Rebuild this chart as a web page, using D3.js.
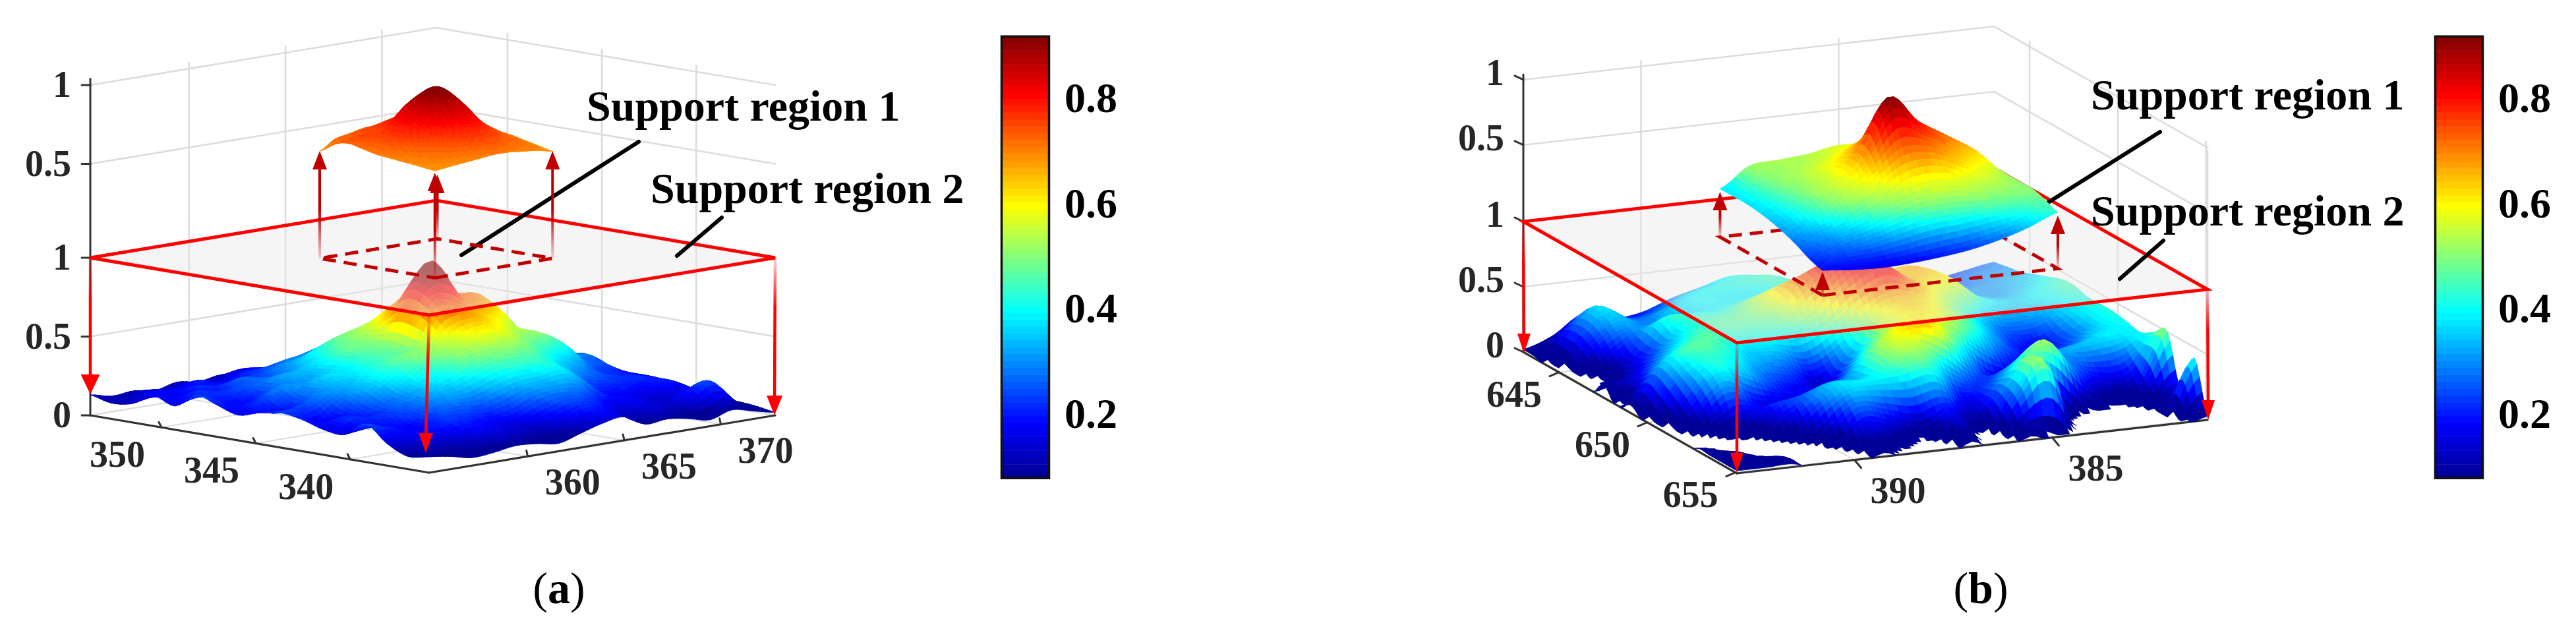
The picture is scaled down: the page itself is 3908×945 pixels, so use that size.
<!DOCTYPE html>
<html><head><meta charset="utf-8">
<script src="https://cdn.jsdelivr.net/npm/d3@7"></script>
<style>html,body{margin:0;background:#fff}svg{display:block}text{font-family:"Liberation Serif","Times New Roman",serif}</style>
</head><body><svg id="c" width="3908" height="945"></svg>
<script>
// ---------- values ----------
const colorbarTicks=[0.2,0.4,0.6,0.8];
const zTicks=[0,0.5,1];
const xTicksA=[360,365,370], yTicksA=[350,345,340];
const xTicksB=[390,385], yTicksB=[645,650,655];
const annotations=["Support region 1","Support region 2"];
// heights: rows = y axis from near corner to far corner, columns = x axis from near corner to far corner
// (values below 0 fall under the axis floor and are clipped away)
const surfaceA=[
[.10,.08,.05,.06,.08,.07,.05,.09,.13,.15,.08,.09,.07,.04,.08,.05,.02],
[.08,.10,.12,.14,.16,.13,.12,.15,.20,.19,.12,.15,.12,.18,.24,.10,.04],
[.14,.16,.18,.22,.20,.18,.20,.26,.28,.26,.19,.18,.14,.13,.17,.11,.05],
[.24,.20,.17,.24,.28,.27,.31,.35,.36,.38,.30,.18,.19,.17,.20,.13,.06],
[.15,.18,.22,.26,.33,.37,.42,.46,.46,.44,.36,.28,.24,.22,.20,.15,.07],
[.16,.22,.20,.28,.36,.44,.50,.54,.54,.52,.44,.38,.30,.22,.20,.16,.08],
[.20,.16,.24,.34,.42,.50,.52,.60,.64,.60,.52,.50,.42,.28,.24,.14,.09],
[.22,.24,.30,.33,.40,.46,.50,.76,.74,.66,.60,.50,.36,.26,.28,.18,.07],
[.20,.18,.26,.36,.38,.46,.52,.82,.98,.76,.70,.62,.44,.30,.24,.12,.06],
[.16,.22,.30,.30,.36,.48,.50,.66,.78,.72,.70,.66,.40,.26,.20,.14,.08],
[.20,.18,.22,.32,.34,.42,.50,.55,.64,.60,.56,.46,.36,.24,.22,.16,.07],
[.24,.20,.24,.27,.28,.36,.44,.48,.50,.52,.44,.38,.30,.26,.18,.12,.06],
[.15,.22,.20,.26,.24,.30,.32,.32,.42,.46,.40,.34,.26,.22,.22,.12,.05],
[.19,.16,.21,.18,.20,.24,.28,.30,.34,.35,.32,.30,.24,.20,.16,.14,.05],
[.12,.18,.16,.20,.16,.20,.20,.22,.26,.28,.24,.22,.20,.14,.12,.10,.04],
[.10,.12,.14,.12,.14,.12,.18,.16,.18,.16,.18,.14,.15,.12,.10,.08,.04],
[.13,.10,.11,.09,.12,.10,.12,.10,.12,.10,.10,.11,.09,.08,.07,.05,.03]];
const surfaceB=[
[.02,.02,.02,-.08,-.10,.03,-.08,-.12,.04,-.10,.03,-.08,-.15,-.15,-.15,-.06,.03],
[.02,.02,.02,-.10,-.06,.12,.06,-.06,.14,-.06,.24,.46,-.05,-.15,-.12,-.02,.42],
[.02,.02,-.08,-.10,.06,.26,.22,.16,.22,.10,.30,.50,.10,-.08,-.08,.02,.12],
[.02,-.03,-.08,.04,.24,.36,.38,.40,.42,.18,.25,.42,.50,.22,.08,.10,.50],
[-.08,-.02,.06,.20,.26,.34,.34,.50,.52,.36,.22,.30,.44,.30,.22,.24,.44],
[-.08,.10,.28,.16,.16,.22,.30,.50,.62,.62,.36,.14,.16,.30,.34,.38,.38],
[-.06,.20,.40,.34,.22,.16,.18,.40,.56,.60,.52,.34,.20,.20,.26,.36,.40],
[-.02,.28,.42,.40,.30,.24,.12,.30,.52,.62,.58,.46,.30,.18,.20,.32,.42],
[.06,.32,.46,.44,.36,.34,.26,.38,.56,.66,.62,.50,.36,.22,.20,.34,.42],
[-.03,.22,.38,.46,.42,.42,.46,.60,.78,.85,.70,.56,.42,.30,.30,.36,.42],
[.10,.14,.30,.42,.46,.48,.56,.76,.86,.76,.68,.62,.56,.40,.36,.40,.45],
[-.05,.08,.22,.38,.44,.46,.58,.68,.70,.64,.62,.66,.58,.40,.34,.38,.44],
[-.10,.04,.22,.42,.42,.42,.50,.56,.58,.56,.54,.60,.50,.36,.30,.34,.40],
[-.10,.16,.30,.30,.36,.38,.40,.44,.46,.44,.46,.46,.40,.30,.30,.32,.36],
[-.06,.22,.36,.28,.34,.40,.38,.38,.42,.40,.40,.36,.30,.24,.26,.30,.32],
[.01,.20,.36,.24,.26,.36,.40,.42,.44,.36,.32,.28,.24,.22,.24,.28,.30],
[.02,.10,.24,.18,.20,.28,.34,.40,.38,.30,.26,.24,.20,.18,.20,.24,.28]];
const patchA=[
[.68,.69,.70,.71,.72,.72,.71,.70,.68],
[.69,.72,.74,.77,.80,.78,.75,.73,.70],
[.70,.74,.78,.84,.88,.85,.80,.75,.72],
[.71,.77,.84,.96,1.02,.97,.86,.79,.74],
[.72,.80,.88,1.02,1.09,1.02,.88,.80,.74],
[.74,.79,.86,.98,1.02,.97,.86,.79,.74],
[.76,.80,.80,.87,.90,.87,.83,.77,.74],
[.74,.76,.79,.82,.84,.82,.79,.75,.72],
[.68,.74,.76,.78,.78,.77,.75,.72,.70]];
const patchB=[
[.19,.17,.16,.17,.19,.22,.27,.34,.43],
[.22,.25,.28,.33,.38,.40,.42,.44,.47],
[.27,.32,.40,.50,.58,.60,.56,.52,.50],
[.31,.40,.54,.68,.86,.84,.72,.60,.50],
[.34,.44,.58,.78,1.19,.98,.84,.70,.50],
[.36,.46,.58,.72,.92,.92,.80,.66,.50],
[.37,.48,.56,.64,.76,.78,.72,.62,.48],
[.37,.50,.54,.58,.66,.66,.60,.56,.48],
[.37,.52,.54,.56,.60,.58,.54,.52,.48]];
// ---------- layout ----------
const svg=d3.select("#c");
const defs=svg.append("defs");
const jetStops=["#00008f","#0000ff","#00ffff","#ffff00","#ff0000","#800000"];
const jetPos=[0,.125,.377,.617,.869,1];
const jetRaw=d3.scaleLinear().domain(jetPos).range(jetStops).interpolate(d3.interpolateRgb).clamp(true);
const cMin=.075,cMax=.915,levels=64;
const jetQ=d3.scaleQuantize().domain([cMin,cMax]).range(d3.range(levels).map(i=>jetRaw((i+.5)/levels)));
const jet=v=>jetQ(Math.max(cMin,Math.min(cMax-1e-6,v)));

function catmull(p0,p1,p2,p3,t){return .5*((2*p1)+(-p0+p2)*t+(2*p0-5*p1+4*p2-p3)*t*t+(-p0+3*p1-3*p2+p3)*t*t*t);}
function fineGrid(g,s){ // smooth display mesh through the read values
 const n=g.length,m=g[0].length,at=(i,j)=>g[Math.max(0,Math.min(n-1,i))][Math.max(0,Math.min(m-1,j))];
 return d3.range((n-1)*s+1).map(a=>{const i=Math.min(n-2,Math.floor(a/s)),tv=a/s-i;
  return d3.range((m-1)*s+1).map(b=>{const j=Math.min(m-2,Math.floor(b/s)),tu=b/s-j;
   const col=[-1,0,1,2].map(k=>catmull(at(i+k,j-1),at(i+k,j),at(i+k,j+1),at(i+k,j+2),tu));
   return catmull(col[0],col[1],col[2],col[3],tv);});});
}
function makePanel(c){
 const ux=d3.scaleLinear([0,1],[0,c.R[0]-c.F[0]]),uy=d3.scaleLinear([0,1],[0,c.R[1]-c.F[1]]);
 const vx=d3.scaleLinear([0,1],[0,c.L[0]-c.F[0]]),vy=d3.scaleLinear([0,1],[0,c.L[1]-c.F[1]]);
 const zs=d3.scaleLinear([0,1],[0,c.unit]);
 const P=(u,v,z)=>[c.F[0]+ux(u)+vx(v),c.F[1]+uy(u)+vy(v)-zs(z)];
 const g=svg.append("g");
 const line=(a,b,st,w)=>g.append("line").attr("x1",a[0]).attr("y1",a[1]).attr("x2",b[0]).attr("y2",b[1]).attr("stroke",st).attr("stroke-width",w).attr("stroke-linecap","round");
 const grid="#dcdcdc",top=1+c.upper;
 // walls
 [0,.5,1,c.upper+.5,c.upper+1].forEach(z=>{line(P(0,1,z),P(1,1,z),grid,2.6);line(P(1,1,z),P(1,0,z),grid,2.6);});
 c.xTicks.forEach(t=>{const u=c.uS(t);line(P(u,1,0),P(u,1,top+.04),grid,2.6);line(P(u,0,0),P(u,1,0),grid,2);});
 c.yTicks.forEach(t=>{const v=c.vS(t);line(P(1,v,0),P(1,v,top+.04),grid,2.6);line(P(0,v,0),P(1,v,0),grid,2);});
 if(c.edgeWall)line(P(1,0,0.5),P(1,0,top-.02),grid,2.6);
 // axes
 line(P(0,1,0),P(0,1,top+.04),"#333",3);
 line(P(0,1,0),P(0,0,0),"#333",3.2);line(P(0,0,0),P(1,0,0),"#333",3.2);
 const num=(x,y,t,anchor)=>g.append("text").attr("x",x).attr("y",y).attr("text-anchor",anchor).attr("font-size",56).attr("font-weight","bold").attr("fill","#262626").text(t);
 zTicks.forEach(z=>{[0,c.upper].forEach(o=>{ if(o&&z==0)return; const p=P(0,1,z+o);line(p,[p[0]-13,p[1]-c.tickRise],"#333",3);
   num(p[0]-c.zLabelGap,p[1]+c.zLabelDy,z,"end");});});
 c.xTicks.forEach(t=>{const p=P(c.uS(t),0,0);line(p,[p[0]+c.xTick[0],p[1]+c.xTick[1]],"#333",3);num(p[0]+c.xLab[0],p[1]+c.xLab[1],t,"middle");});
 c.yTicks.forEach(t=>{const p=P(0,c.vS(t),0);line(p,[p[0]+c.yTick[0],p[1]+c.yTick[1]],"#333",3);num(p[0]+c.yLab[0],p[1]+c.yLab[1],t,"middle");});
 // surface
 const mesh=(data,s,u0,u1,v0,v1,lift,gg,colorOf)=>{
  const f=fineGrid(data,s),n=f.length,m=f[0].length;
  const uA=d3.scaleLinear([0,m-1],[u0,u1]),vA=d3.scaleLinear([0,n-1],[v0,v1]);
  for(let i=n-2;i>=0;i--)for(let j=m-2;j>=0;j--){
   const q=[[i,j],[i,j+1],[i+1,j+1],[i+1,j]],zz=q.map(([a,b])=>f[a][b]),mean=d3.mean(zz);
   if(mean<0)continue;
   const pts=q.map(([a,b],k)=>P(uA(b),vA(a),Math.max(0,zz[k])+lift));
   const col=jet(colorOf(mean));
   gg.append("path").attr("d",d3.line()(pts)+"Z").attr("fill",col).attr("stroke",col).attr("stroke-width",.9);
  }};
 mesh(c.surface,5,0,1,0,1,0,g.append("g"),v=>v);
 // support plane
 const pl=[P(0,0,1),P(1,0,1),P(1,1,1),P(0,1,1)];
 const pU=c.pu,pV=c.pv;
 g.append("path").attr("d",d3.line()(pl)+"Z").attr("fill","#e9e9e9").attr("fill-opacity",.45);
 g.append("path").attr("d",d3.line()(pl)+"Z").attr("fill","none").attr("stroke","#ff0000").attr("stroke-width",5);
 const sq=[P(pU[0],pV[0],1),P(pU[1],pV[0],1),P(pU[1],pV[1],1),P(pU[0],pV[1],1)];
 c.leaders.forEach(l=>line(l[0],l[1],"#000",6));
 g.append("path").attr("d",d3.line()(sq)+"Z").attr("fill","none").attr("stroke","#c00000").attr("stroke-width",5).attr("stroke-dasharray","20 12");
 // arrows
 const arrow=(a,b,col,w,hw,hh,fade,name)=>{
  const gid="g"+c.key+name;
  const lg=defs.append("linearGradient").attr("id",gid).attr("gradientUnits","userSpaceOnUse").attr("x1",a[0]).attr("y1",a[1]).attr("x2",a[0]+.01).attr("y2",a[1]+(b[1]-a[1])*fade);
  lg.append("stop").attr("offset",0).attr("stop-color",col).attr("stop-opacity",.15);
  lg.append("stop").attr("offset",1).attr("stop-color",col).attr("stop-opacity",1);
  const dir=Math.sign(b[1]-a[1]);
  g.append("line").attr("x1",a[0]).attr("y1",a[1]).attr("x2",b[0]+.01).attr("y2",b[1]-dir*hh*.8).attr("stroke","url(#"+gid+")").attr("stroke-width",w);
  g.append("path").attr("d",d3.line()([b,[b[0]-hw/2,b[1]-dir*hh],[b[0]+hw/2,b[1]-dir*hh]])+"Z").attr("fill",col);
 };
 [P(0,1,1),P(0,0,1),P(1,0,1)].forEach((p,i)=>arrow(p,c.downTips[i],"#ff0000",4.5,c.headW[i],c.headH,.32,"d"+i));
 c.ups.forEach((k,i)=>{const p=sq[k];arrow(p,[p[0],c.upTips[i]],"#c00000",4,22,28,.45,"u"+i);});
 const patchColor=d3.scaleLinear(c.patchZ,c.patchC);
 mesh(c.patch,6,pU[0],pU[1],pV[0],pV[1],1,g.append("g"),patchColor);
 // text
 c.texts.forEach((t,i)=>g.append("text").attr("x",t[0]).attr("y",t[1]).attr("font-size",66).attr("font-weight","bold").attr("fill","#000").text(annotations[i]));
 // colour bar
 const cs=d3.scaleLinear().domain([.2,.8]).range([625.5,147]);
 const cb=g.append("g"),barT=cs(cMax),barB=cs(cMin);
 d3.range(levels).forEach(i=>{const y0=cs(cMin+(cMax-cMin)*i/levels),y1=cs(cMin+(cMax-cMin)*(i+1)/levels);
  cb.append("rect").attr("x",c.bar).attr("width",75).attr("y",y1).attr("height",y0-y1+.5).attr("fill",jetRaw((i+.5)/levels));});
 cb.append("rect").attr("x",c.bar+1.5).attr("y",barT).attr("width",72).attr("height",barB-barT).attr("fill","none").attr("stroke","#111").attr("stroke-width",3.5);
 colorbarTicks.forEach(t=>cb.append("text").attr("x",c.bar+97).attr("y",cs(t)+23).attr("font-size",64).attr("font-weight","bold").attr("fill","#000").text(t.toFixed(1)));
 // panel tag
 const tag=g.append("text").attr("x",c.tag).attr("y",915).attr("text-anchor","middle").attr("font-size",68).attr("fill","#000");
 tag.append("tspan").text("(");tag.append("tspan").attr("font-weight","bold").text(c.key);tag.append("tspan").text(")");
}
makePanel({key:"a",F:[651,717],R:[1176,630],L:[137,630],unit:239,upper:1.096,
 surface:surfaceA,patch:patchA,pu:[.33,.67],pv:[.32,.66],patchZ:[0,.68,1.09],patchC:[0,.68,.92],
 xTicks:xTicksA,yTicks:yTicksA,uS:d3.scaleLinear([360,370],[.285,.843]),vS:d3.scaleLinear([340,350],[.233,.79]),
 xTick:[-2,-9],yTick:[-4,-8],xLab:[68,58],yLab:[-67,60],tickRise:0,zLabelGap:29,zLabelDy:18,
 leaders:[[[969,215],[700,387]],[[1095,330],[1027,388]]],texts:[[890,183],[987,308]],
 downTips:[[137,598],[646,687],[1175,630]],headW:[29,22,24],headH:30,
 ups:[0,1,3,2],upTips:[262,229,229,265],bar:1518,tag:848});
makePanel({key:"b",F:[2635,718],R:[3349,637],L:[2311,534],unit:198,upper:1.086,edgeWall:true,
 surface:surfaceB,patch:patchB,pu:[.30,.80],pv:[.26,.74],patchZ:[0,.5,1.19],patchC:[0,.5,.92],
 xTicks:xTicksB,yTicks:yTicksB,uS:d3.scaleLinear([390,385],[.25,.67]),vS:d3.scaleLinear([645,650],[.833,.42]),
 xTick:[10,12],yTick:[-14,6],xLab:[66,65],yLab:[-68,52],tickRise:6,zLabelGap:29,zLabelDy:8,
 leaders:[[[3277,200],[3009,369]],[[3282,365],[3216,423]]],texts:[[3172,166],[3172,342]],
 downTips:[[2312,536],[2635,717],[3350,637]],headW:[20,20,20],headH:30,
 ups:[3,0,1],upTips:[291,412,327],bar:3693,tag:3005});
</script></body></html>
